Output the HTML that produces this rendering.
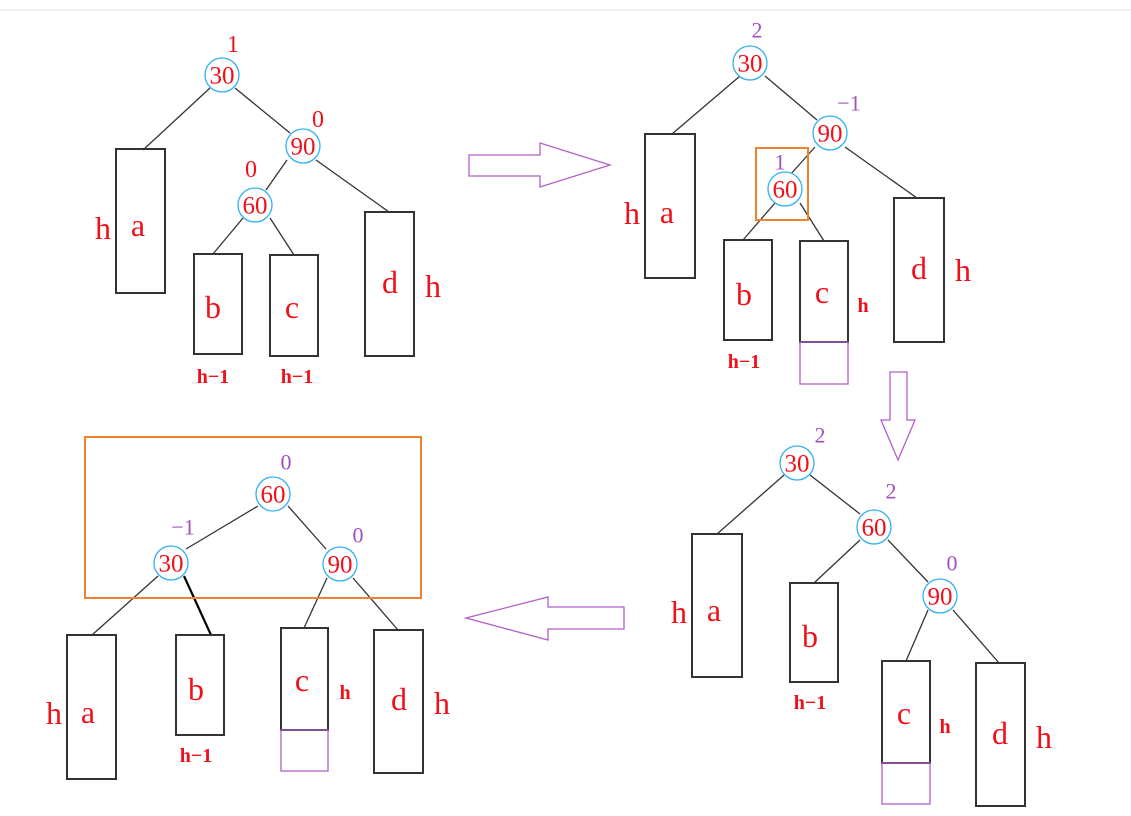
<!DOCTYPE html>
<html><head><meta charset="utf-8"><style>
html,body{margin:0;padding:0;background:#fff;width:1131px;height:816px;overflow:hidden}
svg text{font-family:"Liberation Serif",serif;fill:#f0101a;text-anchor:middle;dominant-baseline:central}
.n text{font-size:25px}.L text{font-size:32px}.s text{font-size:20px;font-weight:bold}.p text{fill:#a050c0;font-size:22px}.r text{font-size:24px}
</style></head><body>
<svg width="1131" height="816" xmlns="http://www.w3.org/2000/svg">
<line x1="0" y1="10" x2="1131" y2="10" stroke="#dde0e8" stroke-width="1"/>
<g fill="none" stroke="#333" stroke-width="1.3">
<line x1="210" y1="88" x2="143" y2="150"/><line x1="235" y1="88" x2="290" y2="133"/>
<line x1="287" y1="160" x2="266" y2="190"/><line x1="316" y1="160" x2="389" y2="212"/>
<line x1="243" y1="218" x2="213" y2="254"/><line x1="270" y1="218" x2="294" y2="255"/>
<rect x="116" y="149" width="49" height="144" stroke-width="2"/><rect x="194" y="254" width="48" height="100" stroke-width="2"/>
<rect x="270" y="255" width="48" height="101" stroke-width="2"/><rect x="365" y="212" width="49" height="144" stroke-width="2"/>
<line x1="740" y1="76" x2="672" y2="134"/><line x1="765" y1="76" x2="817" y2="120"/>
<line x1="815" y1="147" x2="790" y2="175"/><line x1="845" y1="147" x2="917" y2="198"/>
<line x1="775" y1="203" x2="743" y2="240"/><line x1="800" y1="203" x2="824" y2="241"/>
<rect x="645" y="134" width="50" height="144" stroke-width="2"/><rect x="724" y="240" width="48" height="100" stroke-width="2"/>
<rect x="800" y="241" width="48" height="101" stroke-width="2"/><rect x="894" y="198" width="50" height="144" stroke-width="2"/>
<line x1="784" y1="475" x2="717" y2="534"/><line x1="810" y1="475" x2="860" y2="514"/>
<line x1="860" y1="540" x2="814" y2="583"/><line x1="888" y1="540" x2="928" y2="582"/>
<line x1="928" y1="610" x2="906" y2="661"/><line x1="953" y1="610" x2="999" y2="663"/>
<rect x="692" y="534" width="50" height="143" stroke-width="2"/><rect x="790" y="583" width="48" height="99" stroke-width="2"/>
<rect x="882" y="661" width="48" height="102" stroke-width="2"/><rect x="976" y="663" width="49" height="143" stroke-width="2"/>
<line x1="258" y1="506" x2="186" y2="549"/><line x1="288" y1="506" x2="326" y2="549"/>
<line x1="158" y1="576" x2="92" y2="635"/><line x1="184" y1="576" x2="211" y2="635" stroke="#000" stroke-width="2.2"/>
<line x1="327" y1="578" x2="304" y2="628"/><line x1="353" y1="578" x2="398" y2="630"/>
<rect x="67" y="635" width="49" height="144" stroke-width="2"/><rect x="176" y="635" width="48" height="100" stroke-width="2"/>
<rect x="281" y="628" width="47" height="102" stroke-width="2"/><rect x="374" y="630" width="49" height="143" stroke-width="2"/>
</g>
<g fill="none" stroke="#b060c8" stroke-width="1.3">
<rect x="800" y="342" width="48" height="42"/><rect x="882" y="763" width="48" height="41"/><rect x="281" y="730" width="47" height="41"/>
<polygon points="469,155 540,155 540,143 610,165 540,187 540,176 469,176"/>
<polygon points="890,372 907,372 907,420 915,420 898,460 881,420 890,420"/>
<polygon points="624,607 548,607 548,597 466,618 548,640 548,629 624,629"/>
</g>
<g fill="none" stroke="#f08030" stroke-width="2">
<rect x="756" y="148" width="52" height="72"/><rect x="85" y="437" width="336" height="161"/>
</g>
<g fill="#fff" stroke="#30b0f0" stroke-width="1.3">
<circle cx="222" cy="75" r="17"/><circle cx="303" cy="146" r="17"/><circle cx="255" cy="205" r="17"/>
<circle cx="750" cy="63" r="17"/><circle cx="830" cy="133" r="17"/><circle cx="785" cy="189" r="17"/>
<circle cx="797" cy="463" r="17"/><circle cx="874" cy="527" r="17"/><circle cx="940" cy="596" r="17"/>
<circle cx="273" cy="494" r="17"/><circle cx="171" cy="563" r="17"/><circle cx="340" cy="564" r="17"/>
</g>
<g class="n">
<text x="222" y="76">30</text><text x="303" y="147">90</text><text x="255" y="206">60</text>
<text x="750" y="64">30</text><text x="830" y="134">90</text><text x="785" y="190">60</text>
<text x="797" y="464">30</text><text x="874" y="528">60</text><text x="940" y="597">90</text>
<text x="273" y="495">60</text><text x="171" y="564">30</text><text x="340" y="565">90</text>
</g>
<g class="r"><text x="233" y="45">1</text><text x="318" y="120">0</text><text x="251" y="170">0</text></g>
<g class="p">
<text x="757" y="30">2</text><text x="849" y="103">−1</text><text x="780" y="162">1</text>
<text x="820" y="435">2</text><text x="891" y="491">2</text><text x="952" y="563">0</text>
<text x="286" y="462">0</text><text x="183" y="527">−1</text><text x="358" y="535">0</text>
</g>
<g class="L">
<text x="103" y="228">h</text><text x="138" y="225">a</text><text x="213" y="307">b</text><text x="292" y="307">c</text><text x="390" y="282">d</text><text x="433" y="286">h</text>
<text x="632" y="213">h</text><text x="667" y="212">a</text><text x="744" y="294">b</text><text x="822" y="292">c</text><text x="919" y="268">d</text><text x="963" y="270">h</text>
<text x="679" y="612">h</text><text x="714" y="610">a</text><text x="810" y="636">b</text><text x="904" y="713">c</text><text x="1000" y="733">d</text><text x="1044" y="737">h</text>
<text x="54" y="713">h</text><text x="88" y="712">a</text><text x="196" y="689">b</text><text x="302" y="680">c</text><text x="399" y="699">d</text><text x="442" y="703">h</text>
</g>
<g class="s">
<text x="213" y="377">h−1</text><text x="297" y="377">h−1</text>
<text x="744" y="362">h−1</text><text x="863" y="306">h</text>
<text x="810" y="703">h−1</text><text x="945" y="727">h</text>
<text x="196" y="756">h−1</text><text x="345" y="693">h</text>
</g>
</svg>
</body></html>
